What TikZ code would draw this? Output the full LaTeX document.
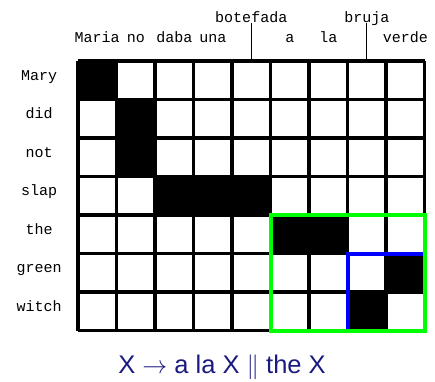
\documentclass[tikz,border=0pt]{standalone}
\usepackage{fontspec}
\setmainfont{Liberation Sans}
\newfontfamily\wordfont{Liberation Mono}
\usetikzlibrary{positioning,calc}
\definecolor{alGreen}{HTML}{00FF00}
\definecolor{alBlue}{HTML}{0000FF}
\definecolor{alRule}{HTML}{1A1A80}
\tikzset{
  word/.style={font=\wordfont\fontsize{15}{15}\selectfont, inner sep=0pt, anchor=base},
  cellline/.style={line width=3.5pt, black},
  linkcell/.style={fill=black},
  span/.style={line width=4pt, alGreen},
  subspan/.style={line width=4pt, alBlue},
  tick/.style={line width=0.8pt, black},
  rule/.style={font=\fontsize{25.5}{25.5}\selectfont, text=alRule, inner sep=0pt}
}

\begin{document}
\begin{tikzpicture}[x=1pt, y=-1pt]
  \useasboundingbox (0,0) rectangle (435,381);
  \begin{scope}[shift={(78,61)}, x=38.5pt, y=-38.5pt]
    % alignment points
    \foreach \c/\r in {0/0, 1/1, 1/2, 2/3, 3/3, 4/3, 5/4, 6/4, 8/5, 7/6}
      \fill[linkcell] (\c,\r) rectangle ++(1,1);
    \foreach \c in {0,...,9}
      \draw[cellline] (\c,0) -- (\c,7);
    \foreach \r in {0,...,7}
      \draw[cellline] (0,\r) -- (9,\r);
    \coordinate (top4) at (4.5,0);
    \coordinate (top7) at (7.5,0);
    % spanish words
    \foreach \w [count=\i from 0] in {Maria, no, daba, una}
      \node[word] (sp\i) at (\i+.5,-.47) {\w};
    \node[word] (botefada) at (4.5,-.99) {botefada};
    \node[word] (a) at (5.5,-.47) {a};
    \node[word] (la) at (6.5,-.47) {la};
    \node[word] (bruja) at (7.5,-.99) {bruja};
    \node[word] (verde) at (8.5,-.47) {verde};
    \draw[tick] (botefada.base) -- (top4);
    \draw[tick] (bruja.base) -- (top7);
    % english words
    \foreach \w [count=\r from 0] in {Mary, did, not, slap, the, green, witch}
      \node[word] (en\r) at (-1.01,\r+.5) {\w};
    % phrase spans
    \draw[subspan] (7,5) rectangle (9,7);
    \draw[span] (5,4) rectangle (9,7);
  \end{scope}
  \node[rule] (xrule) at (222,367) {X $\rightarrow$ a la X $\|$ the X};
\end{tikzpicture}
\end{document}
